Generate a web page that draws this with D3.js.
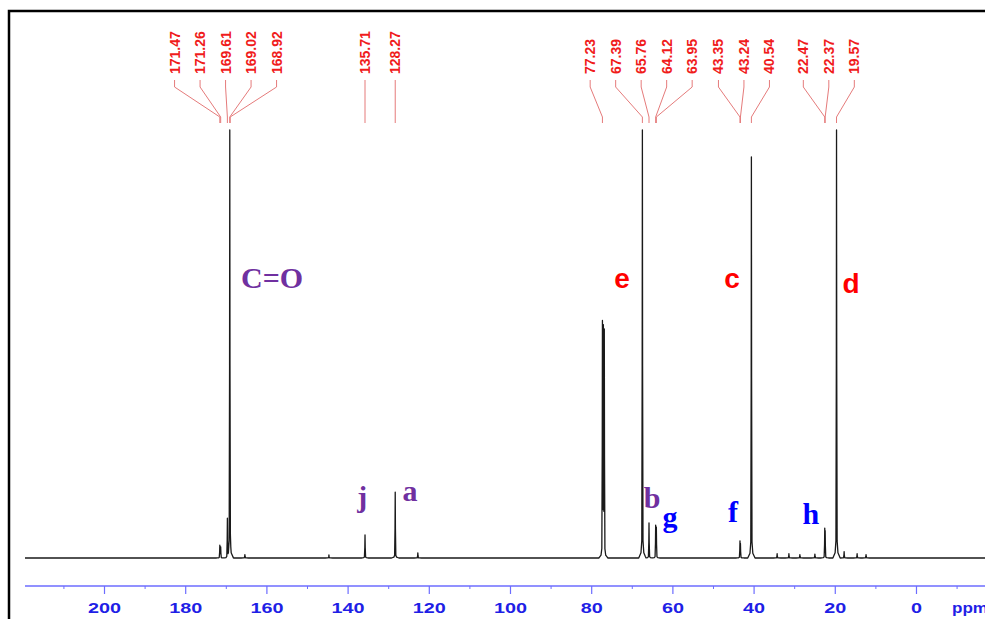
<!DOCTYPE html>
<html>
<head>
<meta charset="utf-8">
<script src="https://cdn.jsdelivr.net/npm/d3@7"></script>
<style>
  html, body { margin: 0; padding: 0; background: #fff; overflow: hidden; }
  svg { display: block; }
</style>
</head>
<body>
<svg id="chart" width="985" height="619"></svg>
<script>
// ---------- DATA ----------
// Peak positions (ppm) and relative heights (tallest = 100)
const peakPpm    = [171.47, 171.26, 169.61, 169.02, 168.92, 165.3, 144.6, 135.71, 128.27, 122.7,
                    77.23, 77.0, 76.77, 67.39, 65.76, 64.12, 63.95, 43.35, 43.24, 40.54,
                    34.2, 31.3, 28.6, 24.9, 22.47, 22.37, 19.57, 17.7, 14.5, 12.3];
const peakHeight = [3.0, 2.6, 9.3, 100, 12, 0.8, 0.7, 5.4, 15.4, 1.2,
                    55.5, 54.5, 53.5, 100, 8.2, 7.7, 7.2, 4.0, 3.4, 93.7,
                    1.0, 1.0, 0.8, 0.9, 7.0, 6.4, 100, 1.5, 1.0, 0.8];
// Peak-pick label groups (ppm values as printed)
const labelGroups = [
  ["171.47", "171.26", "169.61", "169.02", "168.92"],
  ["135.71"],
  ["128.27"],
  ["77.23", "67.39", "65.76", "64.12", "63.95"],
  ["43.35", "43.24", "40.54"],
  ["22.47", "22.37", "19.57"]
];
// Assignment letters: text, ppm anchor, height level, colour class
const assignText  = ["C=O", "e", "c", "d", "j", "a", "b", "g", "f", "h"];
const assignPpm   = [158.6, 72.4, 45.3, 16.0, 136.4, 124.6, 65.0, 60.6, 45.1, 25.9];
const assignLevel = [63, 63, 63, 62, 12, 13.3, 11.7, 7.2, 8.3, 8.0];
const assignKind  = ["purple", "red", "red", "red", "purple", "purple", "purple", "blue", "blue", "blue"];
const majorTicks = [200, 180, 160, 140, 120, 100, 80, 60, 40, 20, 0];
const minorTicks = [210, 190, 170, 150, 130, 110, 90, 70, 50, 30, 10, -10];

// ---------- LAYOUT ----------
const svg = d3.select("#chart");
const x = d3.scaleLinear().domain([219.46, -17.0]).range([25, 985]);
const y = d3.scaleLinear().domain([0, 100]).range([558, 130]);

// frame
svg.append("rect").attr("x", 9).attr("y", 11).attr("width", 1000).attr("height", 700)
  .attr("fill", "none").attr("stroke", "#000").attr("stroke-width", 2.5);

// ---------- SPECTRUM ----------
// each peak drawn as a narrow piecewise-linear line shape; overlapping peaks take the envelope
const shapeOff = [0.9, 0.35, 0.15, 0.05, 0];
const shapeFrac = [0, 0.012, 0.04, 0.45, 1];
function peakShape(p, h, q) {
  const d = Math.abs(q - p);
  if (d >= shapeOff[0]) return 0;
  for (let k = 0; k < shapeOff.length - 1; k++) {
    const a = shapeOff[k], b = shapeOff[k + 1];
    if (d <= a && d >= b) {
      const t = (a - d) / (a - b);
      return h * (shapeFrac[k] + t * (shapeFrac[k + 1] - shapeFrac[k]));
    }
  }
  return h;
}
let qs = [219.46, -17];
peakPpm.forEach(p => shapeOff.forEach(o => { qs.push(p + o); qs.push(p - o); }));
qs = Array.from(new Set(qs.map(v => +v.toFixed(4)))).sort((a, b) => b - a);
const pts = qs.map(q => [q, d3.max(peakPpm, (p, i) => peakShape(p, peakHeight[i], q))]);
const line = d3.line().x(d => x(d[0])).y(d => y(d[1]));
svg.append("path").datum(pts).attr("d", line)
  .attr("fill", "none").attr("stroke", "#1a1a1a").attr("stroke-width", 1.3)
  .attr("stroke-linejoin", "round");

// ---------- AXIS ----------
const axisG = svg.append("g").attr("transform", "translate(0,586)");
axisG.append("line").attr("x1", 25).attr("x2", 985).attr("y1", 0).attr("y2", 0)
  .attr("stroke", "#6d6dff").attr("stroke-width", 1.3);
const major = d3.axisBottom(x).tickValues(majorTicks).tickSize(8).tickFormat(d3.format("d"));
const minor = d3.axisBottom(x).tickValues(minorTicks).tickSize(3).tickFormat("");
axisG.append("g").call(minor).call(g => g.select(".domain").remove())
  .selectAll("line").attr("stroke", "#6d6dff");
axisG.append("g").call(major).call(g => g.select(".domain").remove())
  .call(g => g.selectAll("line").attr("stroke", "#6d6dff").attr("stroke-width", 1.2))
  .call(g => g.selectAll("text")
    .attr("y", 0).attr("dy", null)
    .attr("transform", "translate(0,27)")
    .attr("fill", "#1f1fe6")
    .style("font-family", "Liberation Sans, Arial, sans-serif")
    .style("font-weight", "bold").style("font-size", "15px")
    .attr("textLength", d => String(d).length * 11)
    .attr("lengthAdjust", "spacingAndGlyphs"));
axisG.append("text").attr("x", 952).attr("y", 27).text("ppm")
  .attr("fill", "#1f1fe6")
  .style("font-family", "Liberation Sans, Arial, sans-serif")
  .style("font-weight", "bold").style("font-size", "15px")
  .attr("textLength", 36).attr("lengthAdjust", "spacingAndGlyphs");

// ---------- PEAK-PICK LABELS ----------
const spacing = 25.5;
const lblG = svg.append("g");
labelGroups.forEach(grp => {
  const vals = grp.map(Number);
  const cx = d3.mean(vals, v => x(v));
  grp.forEach((s, k) => {
    const lx = cx + (k - (grp.length - 1) / 2) * spacing;
    const px = x(+s);
    lblG.append("text")
      .attr("transform", `translate(${lx + 5},74) rotate(-90)`)
      .attr("text-anchor", "start")
      .attr("fill", "#f01c1c")
      .style("font-family", "Liberation Sans, Arial, sans-serif")
      .style("font-weight", "bold")
      .style("font-size", "14px")
      .text(s);
    lblG.append("path")
      .attr("d", `M${lx},80 L${lx},87 L${px},117 L${px},123`)
      .attr("fill", "none").attr("stroke", "#e57b7b").attr("stroke-width", 1);
  });
});

// ---------- ASSIGNMENT LETTERS ----------
const colours = { purple: "#7030a0", red: "#ff0000", blue: "#0000ff" };
assignText.forEach((t, i) => {
  const kind = assignKind[i];
  const serif = kind !== "red";
  svg.append("text")
    .attr("x", x(assignPpm[i])).attr("y", y(assignLevel[i]))
    .attr("text-anchor", "middle")
    .attr("fill", colours[kind])
    .style("font-family", serif ? "Liberation Serif, 'Times New Roman', serif" : "Liberation Sans, Arial, sans-serif")
    .style("font-weight", "bold")
    .style("font-size", serif ? "30px" : "28px")
    .text(t);
});
</script>
</body>
</html>
